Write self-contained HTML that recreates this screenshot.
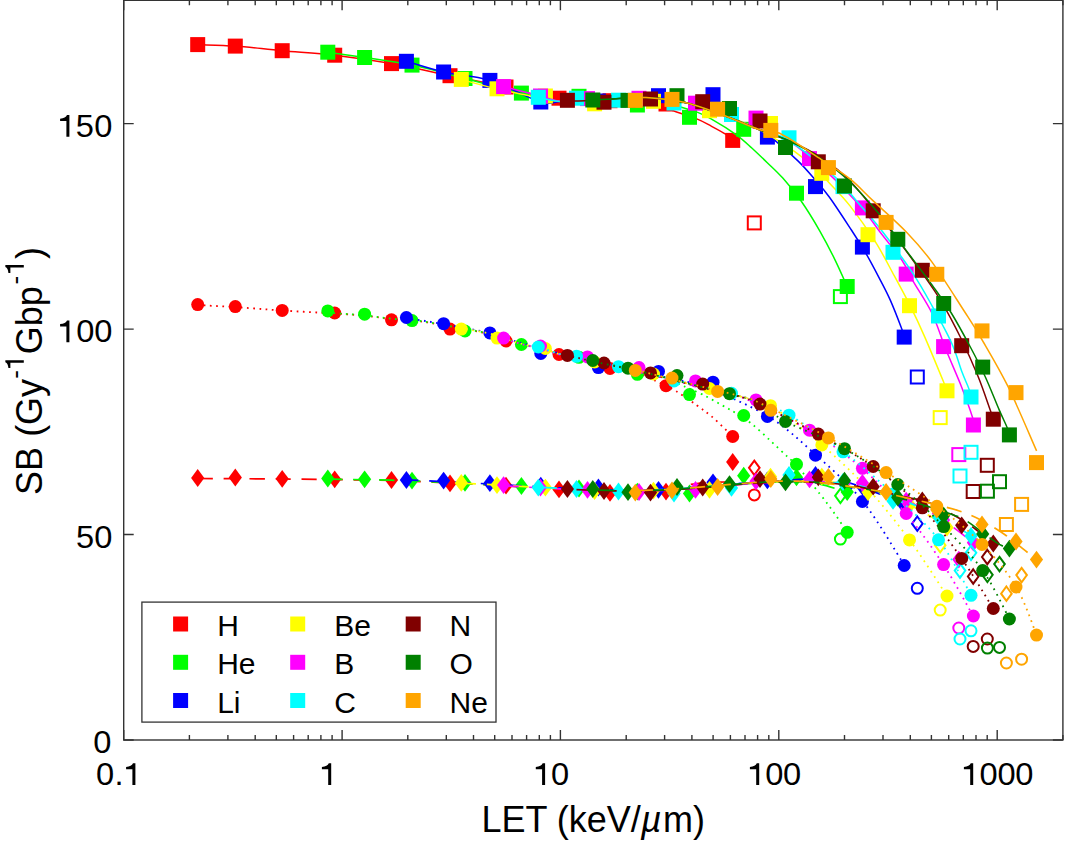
<!DOCTYPE html>
<html><head><meta charset="utf-8"><title>SB vs LET</title>
<style>
html,body{margin:0;padding:0;background:#fff}
body{width:1065px;height:841px;overflow:hidden;font-family:"Liberation Sans",sans-serif}
svg text{font-family:"Liberation Sans",sans-serif;fill:#000}
.t{font-size:32px}
.g{font-size:30px}
.l{font-size:36px}
.s{font-size:26px}
</style></head><body>
<svg width="1065" height="841" viewBox="0 0 1065 841" style="display:block">
<rect width="1065" height="841" fill="#fff"/>
<g fill="#ff0000" stroke="#ff0000">
<path d="M197.7,44.6C204.0,44.9 221.2,45.1 235.3,46.1C249.4,47.1 265.6,49.2 282.2,50.7C298.8,52.2 316.5,53.1 334.7,55.2C352.9,57.4 372.3,60.2 391.5,63.6C410.7,67.0 430.9,71.8 450.0,75.7C469.1,79.6 487.5,82.7 506.0,87.0C524.5,91.3 547.0,99.2 560.8,101.5C574.6,103.8 579.3,101.0 589.0,100.5C598.7,100.0 609.5,99.0 619.0,98.5C628.5,98.0 637.4,95.7 646.0,97.6C654.6,99.5 662.4,106.3 670.8,109.8C679.2,113.3 689.4,115.8 696.2,118.6C703.0,121.3 706.7,123.7 711.6,126.3C716.5,128.9 722.1,131.9 725.6,134.1C729.1,136.3 731.5,138.6 732.7,139.5" fill="none" stroke-width="1.5"/>
<clipPath id="kH"><rect x="197.7" y="0" width="1065" height="841"/></clipPath>
<path d="M197.7,304.6C204.0,304.9 221.2,305.7 235.3,306.6C249.4,307.5 265.4,308.9 282.0,310.0C298.6,311.1 320.9,312.1 334.7,313.0C348.5,313.9 355.1,314.3 364.6,315.2C374.1,316.1 382.3,317.6 391.5,318.5C400.7,319.4 410.2,319.6 420.0,320.8C429.8,322.1 438.3,323.9 450.0,326.0C461.7,328.1 480.7,331.4 490.0,333.6C499.3,335.8 500.8,337.4 506.0,339.0C511.2,340.6 514.5,341.8 521.0,343.5C527.5,345.2 538.7,347.8 545.0,349.5C551.3,351.2 553.2,352.6 559.0,354.0C564.8,355.4 573.2,356.5 580.0,358.0C586.8,359.5 592.0,361.2 600.0,363.0C608.0,364.8 618.6,365.5 628.0,368.5C637.4,371.5 648.7,377.2 656.6,380.9C664.5,384.5 668.9,386.4 675.6,390.4C682.3,394.4 690.6,400.4 696.6,404.7C702.6,409.0 706.7,411.8 711.8,416.1C716.9,420.4 723.5,427.0 727.0,430.4C730.5,433.8 731.8,435.5 732.7,436.5" fill="none" stroke-width="1.8" stroke-dasharray="1.70 4.50" stroke-dashoffset="0" transform="translate(0,0.5)" clip-path="url(#kH)"/>
<path d="M197.7,478.0C211.8,478.1 249.8,478.2 282.0,478.5C314.2,478.8 363.0,479.3 391.0,480.0C419.0,480.7 430.8,481.6 450.0,482.5C469.2,483.4 487.8,484.5 506.0,485.5C524.2,486.5 541.7,487.7 559.0,488.5C576.3,489.3 594.8,490.2 610.0,490.5C625.2,490.8 635.5,491.8 650.0,490.5C664.5,489.2 684.5,484.5 697.0,483.0C709.5,481.5 719.0,481.8 725.0,481.5C731.0,481.2 731.4,481.1 732.7,481.0" fill="none" stroke-width="1.7" stroke-dasharray="15.20 10.78" stroke-dashoffset="0" transform="translate(0,0.5)" clip-path="url(#kH)"/>
<g stroke="none"><rect x="190.2" y="37.1" width="15.0" height="15.0"/><rect x="227.8" y="38.6" width="15.0" height="15.0"/><rect x="274.7" y="43.2" width="15.0" height="15.0"/><rect x="327.2" y="47.7" width="15.0" height="15.0"/><rect x="384.0" y="56.1" width="15.0" height="15.0"/><rect x="442.5" y="68.2" width="15.0" height="15.0"/><rect x="498.5" y="79.5" width="15.0" height="15.0"/><rect x="551.5" y="90.7" width="15.0" height="15.0"/><rect x="602.5" y="93.2" width="15.0" height="15.0"/><rect x="658.5" y="96.5" width="15.0" height="15.0"/><rect x="725.2" y="132.9" width="15.0" height="15.0"/><circle cx="197.7" cy="304.6" r="6.5"/><circle cx="235.3" cy="306.6" r="6.5"/><circle cx="282.2" cy="310.4" r="6.5"/><circle cx="334.7" cy="313.0" r="6.5"/><circle cx="391.5" cy="319.8" r="6.5"/><circle cx="450.0" cy="329.1" r="6.5"/><circle cx="506.0" cy="341.0" r="6.5"/><circle cx="559.0" cy="354.5" r="6.5"/><circle cx="610.0" cy="368.5" r="6.5"/><circle cx="666.0" cy="385.7" r="6.5"/><circle cx="732.7" cy="436.5" r="6.5"/><path d="M197.7,469.1l6.6,8.9l-6.6,8.9l-6.6,-8.9z"/><path d="M235.3,468.6l6.6,8.9l-6.6,8.9l-6.6,-8.9z"/><path d="M282.2,469.9l6.6,8.9l-6.6,8.9l-6.6,-8.9z"/><path d="M334.7,470.4l6.6,8.9l-6.6,8.9l-6.6,-8.9z"/><path d="M391.5,471.1l6.6,8.9l-6.6,8.9l-6.6,-8.9z"/><path d="M450.0,474.5l6.6,8.9l-6.6,8.9l-6.6,-8.9z"/><path d="M506.0,476.8l6.6,8.9l-6.6,8.9l-6.6,-8.9z"/><path d="M559.0,480.5l6.6,8.9l-6.6,8.9l-6.6,-8.9z"/><path d="M610.0,484.0l6.6,8.9l-6.6,8.9l-6.6,-8.9z"/><path d="M666.0,482.7l6.6,8.9l-6.6,8.9l-6.6,-8.9z"/><path d="M732.7,453.1l6.6,8.9l-6.6,8.9l-6.6,-8.9z"/></g>
<g fill="none" stroke-width="2"><rect x="747.8" y="216.4" width="13.0" height="13.0"/><circle cx="754.3" cy="494.9" r="5.5"/><path d="M754.3,460.6l5.3,7.2l-5.3,7.2l-5.3,-7.2z"/></g>
</g>
<g fill="#00ff00" stroke="#00ff00">
<path d="M327.8,52.2C333.9,53.1 350.6,55.4 364.6,57.5C378.6,59.6 395.3,61.6 412.0,65.1C428.7,68.6 446.8,73.8 465.0,78.5C483.2,83.2 505.4,89.3 521.4,93.1C537.4,96.9 549.5,100.3 560.8,101.5C572.1,102.7 579.3,101.0 589.0,100.5C598.7,100.0 609.5,99.0 619.0,98.5C628.5,98.0 637.5,96.7 646.0,97.6C654.5,98.5 661.4,101.5 670.0,104.0C678.6,106.5 690.5,109.7 697.7,112.4C704.9,115.1 706.8,116.4 713.2,120.1C719.7,123.8 730.0,130.2 736.4,134.8C742.8,139.5 746.6,143.3 751.8,148.0C756.9,152.7 762.1,157.7 767.3,162.7C772.5,167.7 777.1,171.7 782.8,178.1C788.5,184.5 795.1,192.4 801.3,201.3C807.5,210.2 814.4,221.6 820.0,231.3C825.6,241.1 830.5,250.6 835.0,259.8C839.5,269.0 845.2,282.1 847.2,286.5" fill="none" stroke-width="1.5"/>
<clipPath id="kHe"><rect x="327.8" y="0" width="1065" height="841"/></clipPath>
<path d="M197.7,304.6C204.0,304.9 221.2,305.7 235.3,306.6C249.4,307.5 265.4,308.9 282.0,310.0C298.6,311.1 320.9,312.1 334.7,313.0C348.5,313.9 355.1,314.3 364.6,315.2C374.1,316.1 382.3,317.6 391.5,318.5C400.7,319.4 410.2,319.6 420.0,320.8C429.8,322.1 438.3,323.9 450.0,326.0C461.7,328.1 480.7,331.4 490.0,333.6C499.3,335.8 500.8,337.4 506.0,339.0C511.2,340.6 514.5,341.8 521.0,343.5C527.5,345.2 538.7,347.8 545.0,349.5C551.3,351.2 553.2,352.6 559.0,354.0C564.8,355.4 573.2,356.5 580.0,358.0C586.8,359.5 592.0,361.2 600.0,363.0C608.0,364.8 617.0,366.0 628.0,368.5C639.0,371.0 656.8,375.1 666.0,378.0C675.2,380.9 677.2,383.0 683.2,385.7C689.2,388.4 695.6,390.9 702.3,394.2C709.0,397.5 717.5,402.5 723.2,405.7C728.9,408.9 731.7,410.3 736.5,413.3C741.3,416.3 746.1,419.1 751.8,423.7C757.5,428.3 764.8,435.3 770.8,440.9C776.8,446.4 783.6,453.0 787.9,457.0C792.2,461.0 791.1,458.9 796.5,465.0C801.9,471.1 813.5,485.6 820.0,493.9C826.5,502.2 831.0,508.3 835.5,514.7C840.0,521.1 845.2,529.4 847.2,532.3" fill="none" stroke-width="1.8" stroke-dasharray="1.70 4.50" stroke-dashoffset="0.5" transform="translate(0,0.2)" clip-path="url(#kHe)"/>
<path d="M197.7,478.0C211.8,478.1 249.8,478.2 282.0,478.5C314.2,478.8 363.0,479.3 391.0,480.0C419.0,480.7 430.8,481.6 450.0,482.5C469.2,483.4 487.8,484.5 506.0,485.5C524.2,486.5 541.7,487.7 559.0,488.5C576.3,489.3 594.8,490.2 610.0,490.5C625.2,490.8 635.0,491.0 650.0,490.5C665.0,490.0 685.0,488.6 700.0,487.5C715.0,486.4 726.7,485.0 740.0,484.0C753.3,483.0 770.6,482.0 780.0,481.5C789.4,481.0 789.8,480.6 796.5,481.0C803.2,481.4 811.5,482.2 820.0,484.0C828.5,485.8 842.7,490.7 847.2,492.0" fill="none" stroke-width="1.7" stroke-dasharray="15.20 10.78" stroke-dashoffset="0.5" transform="translate(0,0.2)" clip-path="url(#kHe)"/>
<g stroke="none"><rect x="320.3" y="44.7" width="15.0" height="15.0"/><rect x="357.1" y="50.0" width="15.0" height="15.0"/><rect x="404.5" y="57.6" width="15.0" height="15.0"/><rect x="457.5" y="71.0" width="15.0" height="15.0"/><rect x="513.9" y="85.6" width="15.0" height="15.0"/><rect x="571.5" y="88.8" width="15.0" height="15.0"/><rect x="629.9" y="97.5" width="15.0" height="15.0"/><rect x="682.0" y="109.8" width="15.0" height="15.0"/><rect x="736.2" y="121.8" width="15.0" height="15.0"/><rect x="789.0" y="185.7" width="15.0" height="15.0"/><rect x="839.7" y="279.0" width="15.0" height="15.0"/><circle cx="327.8" cy="310.9" r="6.5"/><circle cx="364.6" cy="314.2" r="6.5"/><circle cx="412.0" cy="320.6" r="6.5"/><circle cx="465.0" cy="331.0" r="6.5"/><circle cx="521.4" cy="344.5" r="6.5"/><circle cx="579.0" cy="357.3" r="6.5"/><circle cx="637.4" cy="374.3" r="6.5"/><circle cx="689.5" cy="394.6" r="6.5"/><circle cx="743.7" cy="415.5" r="6.5"/><circle cx="796.5" cy="464.3" r="6.5"/><circle cx="847.2" cy="532.3" r="6.5"/><path d="M327.8,469.6l6.6,8.9l-6.6,8.9l-6.6,-8.9z"/><path d="M364.6,470.4l6.6,8.9l-6.6,8.9l-6.6,-8.9z"/><path d="M412.0,471.7l6.6,8.9l-6.6,8.9l-6.6,-8.9z"/><path d="M465.0,474.0l6.6,8.9l-6.6,8.9l-6.6,-8.9z"/><path d="M521.4,477.1l6.6,8.9l-6.6,8.9l-6.6,-8.9z"/><path d="M579.0,479.6l6.6,8.9l-6.6,8.9l-6.6,-8.9z"/><path d="M637.4,482.7l6.6,8.9l-6.6,8.9l-6.6,-8.9z"/><path d="M689.5,484.6l6.6,8.9l-6.6,8.9l-6.6,-8.9z"/><path d="M743.7,466.8l6.6,8.9l-6.6,8.9l-6.6,-8.9z"/><path d="M796.5,468.4l6.6,8.9l-6.6,8.9l-6.6,-8.9z"/><path d="M847.2,483.2l6.6,8.9l-6.6,8.9l-6.6,-8.9z"/></g>
<g fill="none" stroke-width="2"><rect x="833.9" y="290.1" width="13.0" height="13.0"/><circle cx="840.4" cy="539.1" r="5.5"/><path d="M840.4,488.6l5.3,7.2l-5.3,7.2l-5.3,-7.2z"/></g>
</g>
<g fill="#0000ff" stroke="#0000ff">
<path d="M406.4,61.3C412.6,63.1 429.7,68.8 443.6,72.0C457.5,75.2 473.7,75.4 489.9,80.4C506.1,85.4 529.0,98.5 540.8,102.0C552.6,105.5 552.8,101.8 560.8,101.5C568.8,101.2 579.3,101.0 589.0,100.5C598.7,100.0 609.5,99.0 619.0,98.5C628.5,98.0 635.2,97.0 646.0,97.6C656.8,98.2 671.4,99.5 684.0,102.3C696.6,105.1 709.0,110.0 721.5,114.5C734.0,119.0 749.8,125.0 759.0,129.5C768.2,134.1 770.1,136.5 776.6,141.8C783.1,147.1 792.0,155.1 798.2,161.1C804.4,167.1 808.6,172.2 813.7,178.1C818.9,184.0 822.8,188.0 829.1,196.7C835.4,205.3 845.3,220.7 851.4,230.0C857.5,239.3 861.0,244.9 865.6,252.8C870.2,260.7 874.9,269.7 879.0,277.6C883.1,285.5 886.6,291.8 890.4,300.4C894.2,309.0 899.5,322.9 901.8,329.0C904.1,335.1 903.8,335.7 904.2,337.0" fill="none" stroke-width="1.5"/>
<clipPath id="kLi"><rect x="406.4" y="0" width="1065" height="841"/></clipPath>
<path d="M197.7,304.6C204.0,304.9 221.2,305.7 235.3,306.6C249.4,307.5 265.4,308.9 282.0,310.0C298.6,311.1 320.9,312.1 334.7,313.0C348.5,313.9 355.1,314.3 364.6,315.2C374.1,316.1 382.3,317.6 391.5,318.5C400.7,319.4 410.2,319.6 420.0,320.8C429.8,322.1 438.3,323.9 450.0,326.0C461.7,328.1 480.7,331.4 490.0,333.6C499.3,335.8 500.8,337.4 506.0,339.0C511.2,340.6 514.5,341.8 521.0,343.5C527.5,345.2 538.7,347.8 545.0,349.5C551.3,351.2 553.2,352.6 559.0,354.0C564.8,355.4 573.2,356.5 580.0,358.0C586.8,359.5 592.0,361.2 600.0,363.0C608.0,364.8 617.0,366.0 628.0,368.5C639.0,371.0 653.3,374.8 666.0,378.0C678.7,381.2 687.1,381.2 704.0,387.6C720.9,394.0 748.8,405.2 767.4,416.5C786.0,427.8 799.7,441.0 815.5,455.2C831.3,469.4 847.6,483.1 862.4,501.5C877.2,519.9 897.2,554.8 904.2,565.5" fill="none" stroke-width="1.8" stroke-dasharray="1.70 4.46" stroke-dashoffset="1.0" transform="translate(0,-0.6)" clip-path="url(#kLi)"/>
<path d="M197.7,478.0C211.8,478.1 249.8,478.2 282.0,478.5C314.2,478.8 363.0,479.3 391.0,480.0C419.0,480.7 430.8,481.6 450.0,482.5C469.2,483.4 487.8,484.5 506.0,485.5C524.2,486.5 541.7,487.7 559.0,488.5C576.3,489.3 594.8,490.2 610.0,490.5C625.2,490.8 635.0,491.0 650.0,490.5C665.0,490.0 685.0,488.6 700.0,487.5C715.0,486.4 726.7,485.0 740.0,484.0C753.3,483.0 769.0,482.2 780.0,481.5C791.0,480.8 796.0,479.7 806.0,479.7C816.0,479.7 831.0,480.3 840.0,481.5C849.0,482.7 852.5,484.4 860.0,487.0C867.5,489.6 877.6,493.9 885.0,497.0C892.4,500.1 901.0,504.1 904.2,505.5" fill="none" stroke-width="1.7" stroke-dasharray="15.11 10.72" stroke-dashoffset="1.0" transform="translate(0,-0.6)" clip-path="url(#kLi)"/>
<g stroke="none"><rect x="398.9" y="53.8" width="15.0" height="15.0"/><rect x="436.1" y="64.5" width="15.0" height="15.0"/><rect x="482.4" y="72.9" width="15.0" height="15.0"/><rect x="533.3" y="94.5" width="15.0" height="15.0"/><rect x="590.9" y="93.5" width="15.0" height="15.0"/><rect x="651.0" y="88.2" width="15.0" height="15.0"/><rect x="705.5" y="87.2" width="15.0" height="15.0"/><rect x="759.9" y="129.6" width="15.0" height="15.0"/><rect x="808.0" y="179.1" width="15.0" height="15.0"/><rect x="854.9" y="239.6" width="15.0" height="15.0"/><rect x="896.7" y="329.6" width="15.0" height="15.0"/><circle cx="406.4" cy="317.5" r="6.5"/><circle cx="443.6" cy="323.7" r="6.5"/><circle cx="489.9" cy="332.9" r="6.5"/><circle cx="540.8" cy="353.5" r="6.5"/><circle cx="598.4" cy="367.6" r="6.5"/><circle cx="658.5" cy="371.4" r="6.5"/><circle cx="713.0" cy="382.2" r="6.5"/><circle cx="767.4" cy="416.5" r="6.5"/><circle cx="815.5" cy="455.2" r="6.5"/><circle cx="862.4" cy="501.5" r="6.5"/><circle cx="904.2" cy="565.5" r="6.5"/><path d="M406.4,471.1l6.6,8.9l-6.6,8.9l-6.6,-8.9z"/><path d="M443.6,471.7l6.6,8.9l-6.6,8.9l-6.6,-8.9z"/><path d="M489.9,474.3l6.6,8.9l-6.6,8.9l-6.6,-8.9z"/><path d="M540.8,476.8l6.6,8.9l-6.6,8.9l-6.6,-8.9z"/><path d="M598.4,478.6l6.6,8.9l-6.6,8.9l-6.6,-8.9z"/><path d="M658.5,480.9l6.6,8.9l-6.6,8.9l-6.6,-8.9z"/><path d="M713.0,473.4l6.6,8.9l-6.6,8.9l-6.6,-8.9z"/><path d="M767.4,471.5l6.6,8.9l-6.6,8.9l-6.6,-8.9z"/><path d="M815.5,466.1l6.6,8.9l-6.6,8.9l-6.6,-8.9z"/><path d="M862.4,477.6l6.6,8.9l-6.6,8.9l-6.6,-8.9z"/><path d="M904.2,496.6l6.6,8.9l-6.6,8.9l-6.6,-8.9z"/></g>
<g fill="none" stroke-width="2"><rect x="910.8" y="370.5" width="13.0" height="13.0"/><circle cx="917.3" cy="588.3" r="5.5"/><path d="M917.3,516.5l5.3,7.2l-5.3,7.2l-5.3,-7.2z"/></g>
</g>
<g fill="#ffff00" stroke="#ffff00">
<path d="M461.3,79.4C467.2,81.0 480.4,85.1 497.0,88.8C513.6,92.5 545.5,99.5 560.8,101.5C576.1,103.5 579.3,101.0 589.0,100.5C598.7,100.0 609.5,99.0 619.0,98.5C628.5,98.0 635.2,97.0 646.0,97.6C656.8,98.2 671.4,99.5 684.0,102.3C696.6,105.1 709.0,110.0 721.5,114.5C734.0,119.0 746.7,123.3 759.0,129.5C771.3,135.7 786.0,145.5 795.1,151.8C804.2,158.1 808.0,162.1 813.7,167.3C819.4,172.5 823.1,176.4 829.1,182.8C835.1,189.2 842.3,196.1 850.0,205.9C857.7,215.7 867.7,229.8 875.1,241.4C882.5,253.0 888.5,265.2 894.2,275.7C899.9,286.2 904.3,294.0 909.4,304.2C914.5,314.4 918.9,323.6 924.6,336.6C930.3,349.6 940.0,373.2 943.7,382.2C947.4,391.2 946.5,389.4 947.0,390.8" fill="none" stroke-width="1.5"/>
<clipPath id="kBe"><rect x="461.3" y="0" width="1065" height="841"/></clipPath>
<path d="M197.7,304.6C204.0,304.9 221.2,305.7 235.3,306.6C249.4,307.5 265.4,308.9 282.0,310.0C298.6,311.1 320.9,312.1 334.7,313.0C348.5,313.9 355.1,314.3 364.6,315.2C374.1,316.1 382.3,317.6 391.5,318.5C400.7,319.4 410.2,319.6 420.0,320.8C429.8,322.1 438.3,323.9 450.0,326.0C461.7,328.1 480.7,331.4 490.0,333.6C499.3,335.8 500.8,337.4 506.0,339.0C511.2,340.6 514.5,341.8 521.0,343.5C527.5,345.2 538.7,347.8 545.0,349.5C551.3,351.2 553.2,352.6 559.0,354.0C564.8,355.4 573.2,356.5 580.0,358.0C586.8,359.5 592.0,361.2 600.0,363.0C608.0,364.8 617.0,366.0 628.0,368.5C639.0,371.0 653.3,374.8 666.0,378.0C678.7,381.2 691.3,384.4 704.0,387.6C716.7,390.8 730.9,394.0 742.0,397.0C753.1,400.0 757.2,397.7 770.5,405.7C783.8,413.7 805.5,431.0 821.8,444.9C838.0,458.8 853.4,473.2 868.0,489.0C882.6,504.8 896.3,522.1 909.5,539.9C922.7,557.7 940.8,586.6 947.0,596.0" fill="none" stroke-width="1.8" stroke-dasharray="1.70 4.58" stroke-dashoffset="0.3" transform="translate(0,0)" clip-path="url(#kBe)"/>
<path d="M197.7,478.0C211.8,478.1 249.8,478.2 282.0,478.5C314.2,478.8 363.0,479.3 391.0,480.0C419.0,480.7 430.8,481.6 450.0,482.5C469.2,483.4 487.8,484.5 506.0,485.5C524.2,486.5 541.7,487.7 559.0,488.5C576.3,489.3 594.8,490.2 610.0,490.5C625.2,490.8 635.0,491.0 650.0,490.5C665.0,490.0 685.0,488.6 700.0,487.5C715.0,486.4 726.7,485.0 740.0,484.0C753.3,483.0 766.3,482.0 780.0,481.5C793.7,481.0 810.3,480.4 822.0,481.0C833.7,481.6 842.3,483.5 850.0,485.0C857.7,486.5 861.3,488.0 868.0,490.0C874.7,492.0 883.1,494.5 890.0,497.0C896.9,499.5 902.8,501.8 909.5,505.0C916.2,508.2 923.8,512.2 930.0,516.0C936.2,519.8 944.2,525.6 947.0,527.5" fill="none" stroke-width="1.7" stroke-dasharray="15.40 10.92" stroke-dashoffset="0.3" transform="translate(0,0)" clip-path="url(#kBe)"/>
<g stroke="none"><rect x="453.8" y="71.9" width="15.0" height="15.0"/><rect x="489.5" y="81.3" width="15.0" height="15.0"/><rect x="537.9" y="88.5" width="15.0" height="15.0"/><rect x="587.1" y="96.3" width="15.0" height="15.0"/><rect x="646.0" y="93.8" width="15.0" height="15.0"/><rect x="702.0" y="103.2" width="15.0" height="15.0"/><rect x="763.0" y="116.0" width="15.0" height="15.0"/><rect x="814.3" y="165.8" width="15.0" height="15.0"/><rect x="860.5" y="227.2" width="15.0" height="15.0"/><rect x="902.0" y="298.2" width="15.0" height="15.0"/><rect x="939.5" y="383.3" width="15.0" height="15.0"/><circle cx="461.3" cy="329.1" r="6.5"/><circle cx="497.0" cy="338.1" r="6.5"/><circle cx="545.4" cy="348.5" r="6.5"/><circle cx="594.6" cy="362.0" r="6.5"/><circle cx="653.5" cy="374.0" r="6.5"/><circle cx="709.5" cy="388.5" r="6.5"/><circle cx="770.5" cy="405.7" r="6.5"/><circle cx="821.8" cy="444.9" r="6.5"/><circle cx="868.0" cy="489.0" r="6.5"/><circle cx="909.5" cy="539.9" r="6.5"/><circle cx="947.0" cy="596.0" r="6.5"/><path d="M461.3,474.0l6.6,8.9l-6.6,8.9l-6.6,-8.9z"/><path d="M497.0,476.2l6.6,8.9l-6.6,8.9l-6.6,-8.9z"/><path d="M545.4,478.7l6.6,8.9l-6.6,8.9l-6.6,-8.9z"/><path d="M594.6,482.1l6.6,8.9l-6.6,8.9l-6.6,-8.9z"/><path d="M653.5,481.8l6.6,8.9l-6.6,8.9l-6.6,-8.9z"/><path d="M709.5,480.9l6.6,8.9l-6.6,8.9l-6.6,-8.9z"/><path d="M770.5,467.7l6.6,8.9l-6.6,8.9l-6.6,-8.9z"/><path d="M821.8,467.7l6.6,8.9l-6.6,8.9l-6.6,-8.9z"/><path d="M868.0,483.1l6.6,8.9l-6.6,8.9l-6.6,-8.9z"/><path d="M909.5,496.1l6.6,8.9l-6.6,8.9l-6.6,-8.9z"/><path d="M947.0,518.6l6.6,8.9l-6.6,8.9l-6.6,-8.9z"/></g>
<g fill="none" stroke-width="2"><rect x="933.7" y="411.1" width="13.0" height="13.0"/><circle cx="940.2" cy="610.1" r="5.5"/><path d="M940.2,538.0l5.3,7.2l-5.3,7.2l-5.3,-7.2z"/></g>
</g>
<g fill="#ff00ff" stroke="#ff00ff">
<path d="M503.6,86.6C509.8,88.2 531.0,93.5 540.5,96.0C550.0,98.5 552.7,100.8 560.8,101.5C568.9,102.2 579.3,101.0 589.0,100.5C598.7,100.0 609.5,99.0 619.0,98.5C628.5,98.0 635.2,97.0 646.0,97.6C656.8,98.2 671.4,99.5 684.0,102.3C696.6,105.1 709.0,110.0 721.5,114.5C734.0,119.0 747.8,125.1 759.0,129.5C770.2,133.9 777.0,133.0 789.0,140.8C801.0,148.6 819.0,164.7 831.3,176.1C843.6,187.5 854.6,199.7 862.7,209.0C870.8,218.3 873.5,223.5 880.0,232.0C886.5,240.5 896.3,251.8 901.8,260.0C907.3,268.2 908.1,272.4 913.2,281.4C918.3,290.3 926.8,302.4 932.2,313.7C937.6,325.0 940.9,337.1 945.7,349.0C950.5,360.9 956.3,373.7 960.8,385.0C965.2,396.3 970.3,410.3 972.4,417.0C974.5,423.7 973.2,423.7 973.4,425.0" fill="none" stroke-width="1.5"/>
<clipPath id="kB"><rect x="503.6" y="0" width="1065" height="841"/></clipPath>
<path d="M197.7,304.6C204.0,304.9 221.2,305.7 235.3,306.6C249.4,307.5 265.4,308.9 282.0,310.0C298.6,311.1 320.9,312.1 334.7,313.0C348.5,313.9 355.1,314.3 364.6,315.2C374.1,316.1 382.3,317.6 391.5,318.5C400.7,319.4 410.2,319.6 420.0,320.8C429.8,322.1 438.3,323.9 450.0,326.0C461.7,328.1 480.7,331.4 490.0,333.6C499.3,335.8 500.8,337.4 506.0,339.0C511.2,340.6 514.5,341.8 521.0,343.5C527.5,345.2 538.7,347.8 545.0,349.5C551.3,351.2 553.2,352.6 559.0,354.0C564.8,355.4 573.2,356.5 580.0,358.0C586.8,359.5 592.0,361.2 600.0,363.0C608.0,364.8 617.0,366.0 628.0,368.5C639.0,371.0 653.3,374.8 666.0,378.0C678.7,381.2 691.3,384.4 704.0,387.6C716.7,390.8 724.4,389.9 742.0,397.0C759.6,404.1 789.4,418.3 809.5,430.2C829.6,442.1 846.3,454.4 862.4,468.3C878.5,482.2 892.7,497.4 906.2,513.5C919.7,529.5 932.4,547.5 943.6,564.6C954.8,581.7 968.4,607.4 973.4,616.0" fill="none" stroke-width="1.8" stroke-dasharray="1.70 4.40" stroke-dashoffset="0.8" transform="translate(0,0.4)" clip-path="url(#kB)"/>
<path d="M197.7,478.0C211.8,478.1 249.8,478.2 282.0,478.5C314.2,478.8 363.0,479.3 391.0,480.0C419.0,480.7 430.8,481.6 450.0,482.5C469.2,483.4 487.8,484.5 506.0,485.5C524.2,486.5 541.7,487.7 559.0,488.5C576.3,489.3 594.8,490.2 610.0,490.5C625.2,490.8 635.0,491.0 650.0,490.5C665.0,490.0 685.0,488.6 700.0,487.5C715.0,486.4 726.7,485.0 740.0,484.0C753.3,483.0 768.3,482.1 780.0,481.5C791.7,480.9 800.0,480.3 810.0,480.5C820.0,480.7 831.3,481.6 840.0,482.5C848.7,483.4 854.9,484.3 862.4,486.0C869.9,487.7 877.7,490.1 885.0,492.5C892.3,494.9 899.5,497.9 906.2,500.6C912.9,503.4 918.8,505.8 925.0,509.0C931.2,512.2 937.8,516.2 943.6,520.0C949.4,523.8 955.0,528.2 960.0,532.0C965.0,535.8 971.2,540.9 973.4,542.7" fill="none" stroke-width="1.7" stroke-dasharray="14.96 10.61" stroke-dashoffset="0.8" transform="translate(0,0.4)" clip-path="url(#kB)"/>
<g stroke="none"><rect x="496.1" y="79.1" width="15.0" height="15.0"/><rect x="533.0" y="88.5" width="15.0" height="15.0"/><rect x="580.0" y="91.1" width="15.0" height="15.0"/><rect x="631.5" y="90.8" width="15.0" height="15.0"/><rect x="688.0" y="95.7" width="15.0" height="15.0"/><rect x="748.5" y="110.6" width="15.0" height="15.0"/><rect x="802.0" y="151.1" width="15.0" height="15.0"/><rect x="854.9" y="200.4" width="15.0" height="15.0"/><rect x="898.7" y="266.6" width="15.0" height="15.0"/><rect x="936.1" y="339.1" width="15.0" height="15.0"/><rect x="965.9" y="417.5" width="15.0" height="15.0"/><circle cx="503.6" cy="338.1" r="6.5"/><circle cx="540.5" cy="346.0" r="6.5"/><circle cx="587.5" cy="356.9" r="6.5"/><circle cx="639.0" cy="367.6" r="6.5"/><circle cx="695.5" cy="380.9" r="6.5"/><circle cx="756.0" cy="399.9" r="6.5"/><circle cx="809.5" cy="430.2" r="6.5"/><circle cx="862.4" cy="468.3" r="6.5"/><circle cx="906.2" cy="513.5" r="6.5"/><circle cx="943.6" cy="564.6" r="6.5"/><circle cx="973.4" cy="616.0" r="6.5"/><path d="M503.6,476.2l6.6,8.9l-6.6,8.9l-6.6,-8.9z"/><path d="M540.5,478.7l6.6,8.9l-6.6,8.9l-6.6,-8.9z"/><path d="M587.5,480.9l6.6,8.9l-6.6,8.9l-6.6,-8.9z"/><path d="M639.0,483.1l6.6,8.9l-6.6,8.9l-6.6,-8.9z"/><path d="M695.5,480.9l6.6,8.9l-6.6,8.9l-6.6,-8.9z"/><path d="M756.0,472.4l6.6,8.9l-6.6,8.9l-6.6,-8.9z"/><path d="M809.5,470.4l6.6,8.9l-6.6,8.9l-6.6,-8.9z"/><path d="M862.4,474.0l6.6,8.9l-6.6,8.9l-6.6,-8.9z"/><path d="M906.2,491.7l6.6,8.9l-6.6,8.9l-6.6,-8.9z"/><path d="M943.6,511.1l6.6,8.9l-6.6,8.9l-6.6,-8.9z"/><path d="M973.4,533.8l6.6,8.9l-6.6,8.9l-6.6,-8.9z"/></g>
<g fill="none" stroke-width="2"><rect x="952.3" y="448.1" width="13.0" height="13.0"/><circle cx="958.8" cy="628.0" r="5.5"/><path d="M958.8,552.4l5.3,7.2l-5.3,7.2l-5.3,-7.2z"/></g>
</g>
<g fill="#00ffff" stroke="#00ffff">
<path d="M538.3,97.3C542.0,98.0 552.3,101.0 560.8,101.5C569.2,102.0 579.3,101.0 589.0,100.5C598.7,100.0 609.5,99.0 619.0,98.5C628.5,98.0 635.2,97.0 646.0,97.6C656.8,98.2 671.4,99.5 684.0,102.3C696.6,105.1 709.0,110.0 721.5,114.5C734.0,119.0 747.8,125.1 759.0,129.5C770.2,133.9 776.3,132.9 789.0,140.8C801.7,148.7 823.3,166.4 835.1,177.1C846.9,187.8 852.0,195.8 860.0,205.0C868.0,214.2 873.9,220.5 882.8,232.0C891.7,243.5 905.0,261.4 913.2,273.8C921.4,286.2 925.9,294.7 932.2,306.1C938.6,317.5 946.3,331.3 951.3,342.3C956.3,353.3 959.1,364.3 962.0,372.0C964.9,379.7 967.3,384.3 968.8,388.5C970.3,392.7 970.6,395.6 971.0,397.0" fill="none" stroke-width="1.5"/>
<clipPath id="kC"><rect x="538.3" y="0" width="1065" height="841"/></clipPath>
<path d="M197.7,304.6C204.0,304.9 221.2,305.7 235.3,306.6C249.4,307.5 265.4,308.9 282.0,310.0C298.6,311.1 320.9,312.1 334.7,313.0C348.5,313.9 355.1,314.3 364.6,315.2C374.1,316.1 382.3,317.6 391.5,318.5C400.7,319.4 410.2,319.6 420.0,320.8C429.8,322.1 438.3,323.9 450.0,326.0C461.7,328.1 480.7,331.4 490.0,333.6C499.3,335.8 500.8,337.4 506.0,339.0C511.2,340.6 514.5,341.8 521.0,343.5C527.5,345.2 538.7,347.8 545.0,349.5C551.3,351.2 553.2,352.6 559.0,354.0C564.8,355.4 573.2,356.5 580.0,358.0C586.8,359.5 592.0,361.2 600.0,363.0C608.0,364.8 617.0,366.0 628.0,368.5C639.0,371.0 653.3,374.8 666.0,378.0C678.7,381.2 691.3,384.4 704.0,387.6C716.7,390.8 732.7,394.4 742.0,397.0C751.3,399.6 752.2,400.5 760.0,403.5C767.8,406.5 775.2,407.1 789.0,415.2C802.8,423.2 825.7,438.7 843.0,451.8C860.3,464.9 877.1,479.3 893.0,494.0C908.9,508.7 925.5,522.9 938.5,539.8C951.5,556.7 965.6,586.0 971.0,595.3" fill="none" stroke-width="1.8" stroke-dasharray="1.70 4.64" stroke-dashoffset="1.3" transform="translate(0,-0.3)" clip-path="url(#kC)"/>
<path d="M197.7,478.0C211.8,478.1 249.8,478.2 282.0,478.5C314.2,478.8 363.0,479.3 391.0,480.0C419.0,480.7 430.8,481.6 450.0,482.5C469.2,483.4 487.8,484.5 506.0,485.5C524.2,486.5 541.7,487.7 559.0,488.5C576.3,489.3 594.8,490.2 610.0,490.5C625.2,490.8 635.0,491.0 650.0,490.5C665.0,490.0 685.0,488.6 700.0,487.5C715.0,486.4 726.7,485.0 740.0,484.0C753.3,483.0 762.8,481.6 780.0,481.5C797.2,481.4 828.0,482.2 843.0,483.5C858.0,484.8 861.7,486.8 870.0,489.0C878.3,491.2 885.5,494.2 893.0,497.0C900.5,499.8 907.4,502.2 915.0,505.5C922.6,508.8 931.8,513.6 938.5,517.0C945.2,520.4 949.6,522.9 955.0,526.0C960.4,529.1 968.3,534.2 971.0,535.9" fill="none" stroke-width="1.7" stroke-dasharray="15.53 11.02" stroke-dashoffset="1.3" transform="translate(0,-0.3)" clip-path="url(#kC)"/>
<g stroke="none"><rect x="530.8" y="89.8" width="15.0" height="15.0"/><rect x="569.0" y="90.7" width="15.0" height="15.0"/><rect x="611.0" y="92.7" width="15.0" height="15.0"/><rect x="666.5" y="95.5" width="15.0" height="15.0"/><rect x="724.0" y="107.0" width="15.0" height="15.0"/><rect x="781.5" y="130.3" width="15.0" height="15.0"/><rect x="835.5" y="179.1" width="15.0" height="15.0"/><rect x="885.5" y="244.8" width="15.0" height="15.0"/><rect x="931.0" y="308.5" width="15.0" height="15.0"/><rect x="963.5" y="389.5" width="15.0" height="15.0"/><circle cx="538.3" cy="347.0" r="6.5"/><circle cx="576.5" cy="356.3" r="6.5"/><circle cx="618.5" cy="366.7" r="6.5"/><circle cx="674.0" cy="380.9" r="6.5"/><circle cx="731.5" cy="393.3" r="6.5"/><circle cx="789.0" cy="415.2" r="6.5"/><circle cx="843.0" cy="451.8" r="6.5"/><circle cx="893.0" cy="494.0" r="6.5"/><circle cx="938.5" cy="539.8" r="6.5"/><circle cx="971.0" cy="595.3" r="6.5"/><path d="M538.3,478.7l6.6,8.9l-6.6,8.9l-6.6,-8.9z"/><path d="M576.5,480.1l6.6,8.9l-6.6,8.9l-6.6,-8.9z"/><path d="M618.5,482.6l6.6,8.9l-6.6,8.9l-6.6,-8.9z"/><path d="M674.0,484.6l6.6,8.9l-6.6,8.9l-6.6,-8.9z"/><path d="M731.5,479.0l6.6,8.9l-6.6,8.9l-6.6,-8.9z"/><path d="M789.0,466.1l6.6,8.9l-6.6,8.9l-6.6,-8.9z"/><path d="M843.0,473.1l6.6,8.9l-6.6,8.9l-6.6,-8.9z"/><path d="M893.0,492.0l6.6,8.9l-6.6,8.9l-6.6,-8.9z"/><path d="M938.5,508.1l6.6,8.9l-6.6,8.9l-6.6,-8.9z"/><path d="M971.0,527.0l6.6,8.9l-6.6,8.9l-6.6,-8.9z"/></g>
<g fill="none" stroke-width="2"><rect x="964.5" y="445.8" width="13.0" height="13.0"/><circle cx="971.0" cy="630.8" r="5.5"/><path d="M971.0,545.6l5.3,7.2l-5.3,7.2l-5.3,-7.2z"/><rect x="953.5" y="469.5" width="13.0" height="13.0"/><circle cx="960.0" cy="639.0" r="5.5"/><path d="M960.0,563.4l5.3,7.2l-5.3,7.2l-5.3,-7.2z"/></g>
</g>
<g fill="#800000" stroke="#800000">
<path d="M567.4,101.3C571.0,101.1 580.4,101.0 589.0,100.5C597.6,100.0 609.5,99.0 619.0,98.5C628.5,98.0 635.2,97.0 646.0,97.6C656.8,98.2 671.4,99.5 684.0,102.3C696.6,105.1 709.0,110.0 721.5,114.5C734.0,119.0 747.8,125.1 759.0,129.5C770.2,133.9 778.8,136.2 789.0,140.8C799.2,145.4 809.8,150.3 820.0,157.0C830.2,163.7 838.3,168.8 850.0,181.0C861.7,193.2 878.3,214.5 890.4,230.0C902.5,245.5 914.1,261.8 922.7,273.8C931.3,285.9 935.4,291.6 941.8,302.3C948.1,313.0 954.8,325.7 960.8,338.0C966.8,350.3 973.0,364.0 977.9,376.0C982.8,388.0 987.6,402.7 990.2,409.9C992.8,417.1 992.8,417.6 993.3,419.2" fill="none" stroke-width="1.5"/>
<clipPath id="kN"><rect x="567.4" y="0" width="1065" height="841"/></clipPath>
<path d="M197.7,304.6C204.0,304.9 221.2,305.7 235.3,306.6C249.4,307.5 265.4,308.9 282.0,310.0C298.6,311.1 320.9,312.1 334.7,313.0C348.5,313.9 355.1,314.3 364.6,315.2C374.1,316.1 382.3,317.6 391.5,318.5C400.7,319.4 410.2,319.6 420.0,320.8C429.8,322.1 438.3,323.9 450.0,326.0C461.7,328.1 480.7,331.4 490.0,333.6C499.3,335.8 500.8,337.4 506.0,339.0C511.2,340.6 514.5,341.8 521.0,343.5C527.5,345.2 538.7,347.8 545.0,349.5C551.3,351.2 553.2,352.6 559.0,354.0C564.8,355.4 573.2,356.5 580.0,358.0C586.8,359.5 592.0,361.2 600.0,363.0C608.0,364.8 617.0,366.0 628.0,368.5C639.0,371.0 653.3,374.8 666.0,378.0C678.7,381.2 691.3,384.4 704.0,387.6C716.7,390.8 732.7,394.2 742.0,397.0C751.3,399.8 747.3,397.9 760.0,404.1C772.7,410.3 799.4,423.7 818.3,434.1C837.2,444.5 855.9,454.2 873.2,466.5C890.5,478.8 907.5,492.5 922.3,507.8C937.0,523.1 949.9,541.6 961.7,558.4C973.5,575.2 988.0,600.1 993.3,608.5" fill="none" stroke-width="1.8" stroke-dasharray="1.70 4.33" stroke-dashoffset="0.2" transform="translate(0,0.3)" clip-path="url(#kN)"/>
<path d="M197.7,478.0C211.8,478.1 249.8,478.2 282.0,478.5C314.2,478.8 363.0,479.3 391.0,480.0C419.0,480.7 430.8,481.6 450.0,482.5C469.2,483.4 487.8,484.5 506.0,485.5C524.2,486.5 541.7,487.7 559.0,488.5C576.3,489.3 594.8,490.2 610.0,490.5C625.2,490.8 635.0,491.0 650.0,490.5C665.0,490.0 685.0,488.6 700.0,487.5C715.0,486.4 726.7,485.0 740.0,484.0C753.3,483.0 767.0,481.8 780.0,481.5C793.0,481.2 806.6,481.4 818.3,482.0C830.0,482.6 840.9,483.8 850.0,485.0C859.1,486.2 863.7,487.5 873.2,489.5C882.7,491.5 897.4,494.8 907.0,497.0C916.6,499.2 921.7,499.3 930.7,503.0C939.7,506.7 953.2,514.4 961.1,519.0C969.0,523.6 972.6,526.7 978.0,530.8C983.4,534.9 990.8,541.4 993.3,543.5" fill="none" stroke-width="1.7" stroke-dasharray="14.79 10.49" stroke-dashoffset="0.2" transform="translate(0,0.3)" clip-path="url(#kN)"/>
<g stroke="none"><rect x="559.9" y="92.8" width="15.0" height="15.0"/><rect x="596.5" y="94.7" width="15.0" height="15.0"/><rect x="643.0" y="91.5" width="15.0" height="15.0"/><rect x="695.2" y="94.2" width="15.0" height="15.0"/><rect x="752.5" y="113.5" width="15.0" height="15.0"/><rect x="810.8" y="154.3" width="15.0" height="15.0"/><rect x="865.7" y="203.3" width="15.0" height="15.0"/><rect x="914.8" y="262.8" width="15.0" height="15.0"/><rect x="954.2" y="338.2" width="15.0" height="15.0"/><rect x="985.8" y="411.7" width="15.0" height="15.0"/><circle cx="567.4" cy="355.4" r="6.5"/><circle cx="604.0" cy="363.0" r="6.5"/><circle cx="650.5" cy="372.9" r="6.5"/><circle cx="702.7" cy="384.1" r="6.5"/><circle cx="760.0" cy="404.1" r="6.5"/><circle cx="818.3" cy="434.1" r="6.5"/><circle cx="873.2" cy="466.5" r="6.5"/><circle cx="922.3" cy="507.8" r="6.5"/><circle cx="961.7" cy="558.4" r="6.5"/><circle cx="993.3" cy="608.5" r="6.5"/><path d="M567.4,480.1l6.6,8.9l-6.6,8.9l-6.6,-8.9z"/><path d="M604.0,482.1l6.6,8.9l-6.6,8.9l-6.6,-8.9z"/><path d="M650.5,483.7l6.6,8.9l-6.6,8.9l-6.6,-8.9z"/><path d="M702.7,478.6l6.6,8.9l-6.6,8.9l-6.6,-8.9z"/><path d="M760.0,470.2l6.6,8.9l-6.6,8.9l-6.6,-8.9z"/><path d="M818.3,468.4l6.6,8.9l-6.6,8.9l-6.6,-8.9z"/><path d="M873.2,477.8l6.6,8.9l-6.6,8.9l-6.6,-8.9z"/><path d="M922.3,491.6l6.6,8.9l-6.6,8.9l-6.6,-8.9z"/><path d="M961.7,516.4l6.6,8.9l-6.6,8.9l-6.6,-8.9z"/><path d="M993.3,534.6l6.6,8.9l-6.6,8.9l-6.6,-8.9z"/></g>
<g fill="none" stroke-width="2"><rect x="980.8" y="458.8" width="13.0" height="13.0"/><circle cx="987.3" cy="639.0" r="5.5"/><path d="M987.3,549.8l5.3,7.2l-5.3,7.2l-5.3,-7.2z"/><rect x="966.7" y="485.0" width="13.0" height="13.0"/><circle cx="973.2" cy="646.4" r="5.5"/><path d="M973.2,569.3l5.3,7.2l-5.3,7.2l-5.3,-7.2z"/></g>
</g>
<g fill="#008000" stroke="#008000">
<path d="M592.8,100.2C597.2,100.0 610.1,98.9 619.0,98.5C627.9,98.1 635.2,97.0 646.0,97.6C656.8,98.2 671.4,99.5 684.0,102.3C696.6,105.1 709.0,110.0 721.5,114.5C734.0,119.0 747.8,125.1 759.0,129.5C770.2,133.9 778.8,136.1 789.0,140.8C799.2,145.6 809.8,151.1 820.0,158.0C830.2,164.9 840.0,172.5 850.0,182.0C860.0,191.5 871.0,204.2 880.0,215.0C889.0,225.8 895.0,235.4 903.7,247.1C912.4,258.8 924.3,274.2 932.2,285.2C940.1,296.2 944.9,302.6 951.3,313.0C957.7,323.4 965.0,337.0 970.6,347.5C976.2,358.0 980.1,365.6 984.9,376.0C989.7,386.4 995.5,401.3 999.2,409.9C1002.9,418.5 1005.5,423.5 1007.2,427.7C1008.9,431.9 1009.0,433.7 1009.4,434.9" fill="none" stroke-width="1.5"/>
<clipPath id="kO"><rect x="592.8" y="0" width="1065" height="841"/></clipPath>
<path d="M197.7,304.6C204.0,304.9 221.2,305.7 235.3,306.6C249.4,307.5 265.4,308.9 282.0,310.0C298.6,311.1 320.9,312.1 334.7,313.0C348.5,313.9 355.1,314.3 364.6,315.2C374.1,316.1 382.3,317.6 391.5,318.5C400.7,319.4 410.2,319.6 420.0,320.8C429.8,322.1 438.3,323.9 450.0,326.0C461.7,328.1 480.7,331.4 490.0,333.6C499.3,335.8 500.8,337.4 506.0,339.0C511.2,340.6 514.5,341.8 521.0,343.5C527.5,345.2 538.7,347.8 545.0,349.5C551.3,351.2 553.2,352.6 559.0,354.0C564.8,355.4 573.2,356.5 580.0,358.0C586.8,359.5 592.0,361.2 600.0,363.0C608.0,364.8 617.0,366.0 628.0,368.5C639.0,371.0 653.3,374.8 666.0,378.0C678.7,381.2 691.3,384.4 704.0,387.6C716.7,390.8 732.7,394.4 742.0,397.0C751.3,399.6 752.8,399.4 760.0,403.5C767.2,407.6 771.4,414.0 785.5,421.5C799.6,429.0 825.8,438.2 844.5,448.7C863.2,459.2 881.3,471.5 897.8,484.5C914.3,497.5 929.6,512.2 943.7,526.6C957.9,541.0 971.8,555.2 982.7,570.6C993.7,586.0 1005.0,610.9 1009.4,619.0" fill="none" stroke-width="1.8" stroke-dasharray="1.70 4.70" stroke-dashoffset="0.7" transform="translate(0,-0.1)" clip-path="url(#kO)"/>
<path d="M197.7,478.0C211.8,478.1 249.8,478.2 282.0,478.5C314.2,478.8 363.0,479.3 391.0,480.0C419.0,480.7 430.8,481.6 450.0,482.5C469.2,483.4 487.8,484.5 506.0,485.5C524.2,486.5 541.7,487.7 559.0,488.5C576.3,489.3 594.8,490.2 610.0,490.5C625.2,490.8 635.0,491.0 650.0,490.5C665.0,490.0 685.0,488.6 700.0,487.5C715.0,486.4 726.7,485.0 740.0,484.0C753.3,483.0 767.3,481.8 780.0,481.5C792.7,481.2 804.8,481.7 816.0,482.5C827.2,483.3 836.7,485.0 847.0,486.5C857.3,488.0 870.0,489.8 878.0,491.5C886.0,493.2 889.2,495.2 895.2,497.0C901.2,498.8 904.2,499.1 913.8,502.1C923.4,505.1 944.0,511.7 952.7,514.8C961.4,517.9 958.9,516.1 966.2,520.7C973.5,525.4 989.4,538.1 996.6,542.7C1003.8,547.4 1007.3,547.6 1009.4,548.6" fill="none" stroke-width="1.7" stroke-dasharray="15.69 11.12" stroke-dashoffset="0.7" transform="translate(0,-0.1)" clip-path="url(#kO)"/>
<g stroke="none"><rect x="585.3" y="92.5" width="15.0" height="15.0"/><rect x="620.5" y="92.9" width="15.0" height="15.0"/><rect x="669.5" y="88.2" width="15.0" height="15.0"/><rect x="722.0" y="101.0" width="15.0" height="15.0"/><rect x="778.0" y="140.0" width="15.0" height="15.0"/><rect x="837.0" y="178.5" width="15.0" height="15.0"/><rect x="890.3" y="231.8" width="15.0" height="15.0"/><rect x="936.2" y="296.0" width="15.0" height="15.0"/><rect x="975.2" y="359.6" width="15.0" height="15.0"/><rect x="1001.9" y="427.4" width="15.0" height="15.0"/><circle cx="592.8" cy="360.5" r="6.5"/><circle cx="628.0" cy="368.2" r="6.5"/><circle cx="677.0" cy="375.6" r="6.5"/><circle cx="729.5" cy="393.7" r="6.5"/><circle cx="785.5" cy="421.5" r="6.5"/><circle cx="844.5" cy="448.7" r="6.5"/><circle cx="897.8" cy="484.5" r="6.5"/><circle cx="943.7" cy="526.6" r="6.5"/><circle cx="982.7" cy="570.6" r="6.5"/><circle cx="1009.4" cy="619.0" r="6.5"/><path d="M592.8,480.1l6.6,8.9l-6.6,8.9l-6.6,-8.9z"/><path d="M628.0,483.3l6.6,8.9l-6.6,8.9l-6.6,-8.9z"/><path d="M677.0,478.1l6.6,8.9l-6.6,8.9l-6.6,-8.9z"/><path d="M729.5,475.2l6.6,8.9l-6.6,8.9l-6.6,-8.9z"/><path d="M785.5,473.4l6.6,8.9l-6.6,8.9l-6.6,-8.9z"/><path d="M844.5,471.8l6.6,8.9l-6.6,8.9l-6.6,-8.9z"/><path d="M897.8,488.7l6.6,8.9l-6.6,8.9l-6.6,-8.9z"/><path d="M943.7,506.7l6.6,8.9l-6.6,8.9l-6.6,-8.9z"/><path d="M982.7,525.0l6.6,8.9l-6.6,8.9l-6.6,-8.9z"/><path d="M1009.4,539.7l6.6,8.9l-6.6,8.9l-6.6,-8.9z"/></g>
<g fill="none" stroke-width="2"><rect x="993.0" y="475.2" width="13.0" height="13.0"/><circle cx="999.5" cy="647.4" r="5.5"/><path d="M999.5,556.9l5.3,7.2l-5.3,7.2l-5.3,-7.2z"/><rect x="980.9" y="484.7" width="13.0" height="13.0"/><circle cx="987.4" cy="648.1" r="5.5"/><path d="M987.4,567.6l5.3,7.2l-5.3,7.2l-5.3,-7.2z"/></g>
</g>
<g fill="#ffa500" stroke="#ffa500">
<path d="M635.3,98.0C637.1,97.9 637.9,96.9 646.0,97.6C654.1,98.3 671.4,99.5 684.0,102.3C696.6,105.1 709.0,110.0 721.5,114.5C734.0,119.0 749.3,126.4 759.0,129.5C768.7,132.6 769.3,128.3 779.7,133.3C790.1,138.3 809.7,152.0 821.4,159.6C833.1,167.2 841.4,172.0 850.0,178.9C858.6,185.8 863.6,191.9 873.2,200.9C882.8,209.9 897.7,222.9 907.5,233.2C917.3,243.4 922.9,249.6 932.2,262.4C941.5,275.2 955.3,297.3 963.5,310.0C971.7,322.7 973.9,325.7 981.3,338.5C988.7,351.3 998.9,368.0 1008.1,386.7C1017.3,405.4 1031.8,440.2 1036.6,450.9" fill="none" stroke-width="1.5"/>
<clipPath id="kNe"><rect x="635.3" y="0" width="1065" height="841"/></clipPath>
<path d="M197.7,304.6C204.0,304.9 221.2,305.7 235.3,306.6C249.4,307.5 265.4,308.9 282.0,310.0C298.6,311.1 320.9,312.1 334.7,313.0C348.5,313.9 355.1,314.3 364.6,315.2C374.1,316.1 382.3,317.6 391.5,318.5C400.7,319.4 410.2,319.6 420.0,320.8C429.8,322.1 438.3,323.9 450.0,326.0C461.7,328.1 480.7,331.4 490.0,333.6C499.3,335.8 500.8,337.4 506.0,339.0C511.2,340.6 514.5,341.8 521.0,343.5C527.5,345.2 538.7,347.8 545.0,349.5C551.3,351.2 553.2,352.6 559.0,354.0C564.8,355.4 573.2,356.5 580.0,358.0C586.8,359.5 592.0,361.2 600.0,363.0C608.0,364.8 617.0,366.0 628.0,368.5C639.0,371.0 653.3,374.8 666.0,378.0C678.7,381.2 691.3,384.4 704.0,387.6C716.7,390.8 732.7,394.4 742.0,397.0C751.3,399.6 745.6,396.7 760.0,403.5C774.4,410.3 807.4,426.4 828.4,437.9C849.4,449.4 868.0,461.2 886.1,472.6C904.2,484.0 920.8,494.3 936.8,506.3C952.8,518.3 968.8,530.9 982.0,544.4C995.2,557.9 1006.9,571.9 1016.0,587.0C1025.1,602.1 1033.1,627.1 1036.5,635.1" fill="none" stroke-width="1.8" stroke-dasharray="1.70 4.50" stroke-dashoffset="1.1" transform="translate(0,-0.4)" clip-path="url(#kNe)"/>
<path d="M197.7,478.0C211.8,478.1 249.8,478.2 282.0,478.5C314.2,478.8 363.0,479.3 391.0,480.0C419.0,480.7 430.8,481.6 450.0,482.5C469.2,483.4 487.8,484.5 506.0,485.5C524.2,486.5 541.7,487.7 559.0,488.5C576.3,489.3 594.8,490.2 610.0,490.5C625.2,490.8 635.0,491.0 650.0,490.5C665.0,490.0 685.0,488.6 700.0,487.5C715.0,486.4 726.7,485.0 740.0,484.0C753.3,483.0 767.3,481.7 780.0,481.5C792.7,481.3 804.8,481.8 816.0,482.7C827.2,483.6 836.7,485.2 847.0,486.6C857.3,488.0 870.8,490.0 878.0,491.3C885.2,492.6 881.3,492.4 890.1,494.5C898.9,496.6 919.2,501.0 930.7,503.8C942.2,506.6 951.0,508.6 959.4,511.4C967.8,514.2 973.8,516.8 981.4,520.7C989.0,524.7 997.7,530.0 1005.0,535.1C1012.3,540.2 1020.0,547.0 1025.3,551.1C1030.5,555.2 1034.6,558.2 1036.5,559.6" fill="none" stroke-width="1.7" stroke-dasharray="15.20 10.78" stroke-dashoffset="1.1" transform="translate(0,-0.4)" clip-path="url(#kNe)"/>
<g stroke="none"><rect x="627.8" y="92.9" width="15.0" height="15.0"/><rect x="664.5" y="91.9" width="15.0" height="15.0"/><rect x="710.1" y="101.7" width="15.0" height="15.0"/><rect x="763.3" y="122.9" width="15.0" height="15.0"/><rect x="820.9" y="160.1" width="15.0" height="15.0"/><rect x="878.6" y="214.9" width="15.0" height="15.0"/><rect x="929.3" y="266.8" width="15.0" height="15.0"/><rect x="974.5" y="323.4" width="15.0" height="15.0"/><rect x="1008.5" y="385.1" width="15.0" height="15.0"/><rect x="1029.0" y="455.1" width="15.0" height="15.0"/><circle cx="635.3" cy="370.4" r="6.5"/><circle cx="672.0" cy="378.1" r="6.5"/><circle cx="717.6" cy="391.4" r="6.5"/><circle cx="770.8" cy="410.3" r="6.5"/><circle cx="828.4" cy="437.9" r="6.5"/><circle cx="886.1" cy="472.6" r="6.5"/><circle cx="936.8" cy="506.3" r="6.5"/><circle cx="982.0" cy="544.4" r="6.5"/><circle cx="1016.0" cy="587.0" r="6.5"/><circle cx="1036.5" cy="635.1" r="6.5"/><path d="M635.3,483.7l6.6,8.9l-6.6,8.9l-6.6,-8.9z"/><path d="M672.0,481.4l6.6,8.9l-6.6,8.9l-6.6,-8.9z"/><path d="M717.6,478.1l6.6,8.9l-6.6,8.9l-6.6,-8.9z"/><path d="M770.8,470.1l6.6,8.9l-6.6,8.9l-6.6,-8.9z"/><path d="M828.4,467.9l6.6,8.9l-6.6,8.9l-6.6,-8.9z"/><path d="M886.1,483.1l6.6,8.9l-6.6,8.9l-6.6,-8.9z"/><path d="M936.8,500.8l6.6,8.9l-6.6,8.9l-6.6,-8.9z"/><path d="M982.0,515.5l6.6,8.9l-6.6,8.9l-6.6,-8.9z"/><path d="M1016.0,532.6l6.6,8.9l-6.6,8.9l-6.6,-8.9z"/><path d="M1036.5,550.7l6.6,8.9l-6.6,8.9l-6.6,-8.9z"/></g>
<g fill="none" stroke-width="2"><rect x="1015.1" y="497.9" width="13.0" height="13.0"/><circle cx="1021.6" cy="659.2" r="5.5"/><path d="M1021.6,567.9l5.3,7.2l-5.3,7.2l-5.3,-7.2z"/><rect x="999.9" y="518.0" width="13.0" height="13.0"/><circle cx="1006.4" cy="663.0" r="5.5"/><path d="M1006.4,586.5l5.3,7.2l-5.3,7.2l-5.3,-7.2z"/></g>
</g>
<g stroke="#333" stroke-width="1.4" fill="none">
<rect x="123.7" y="0.3" width="939.2" height="739.7"/>
<path d="M123.7,740.0v-10M123.7,0.3v10M189.4,740.0v-5M189.4,0.3v5M227.9,740.0v-5M227.9,0.3v5M255.2,740.0v-5M255.2,0.3v5M276.3,740.0v-5M276.3,0.3v5M293.6,740.0v-5M293.6,0.3v5M308.2,740.0v-5M308.2,0.3v5M320.9,740.0v-5M320.9,0.3v5M332.1,740.0v-5M332.1,0.3v5M342.1,740.0v-10M342.1,0.3v10M407.8,740.0v-5M407.8,0.3v5M446.3,740.0v-5M446.3,0.3v5M473.5,740.0v-5M473.5,0.3v5M494.7,740.0v-5M494.7,0.3v5M512.0,740.0v-5M512.0,0.3v5M526.6,740.0v-5M526.6,0.3v5M539.3,740.0v-5M539.3,0.3v5M550.4,740.0v-5M550.4,0.3v5M560.4,740.0v-10M560.4,0.3v10M626.2,740.0v-5M626.2,0.3v5M664.6,740.0v-5M664.6,0.3v5M691.9,740.0v-5M691.9,0.3v5M713.1,740.0v-5M713.1,0.3v5M730.4,740.0v-5M730.4,0.3v5M745.0,740.0v-5M745.0,0.3v5M757.6,740.0v-5M757.6,0.3v5M768.8,740.0v-5M768.8,0.3v5M778.8,740.0v-10M778.8,0.3v10M844.5,740.0v-5M844.5,0.3v5M883.0,740.0v-5M883.0,0.3v5M910.3,740.0v-5M910.3,0.3v5M931.4,740.0v-5M931.4,0.3v5M948.7,740.0v-5M948.7,0.3v5M963.3,740.0v-5M963.3,0.3v5M976.0,740.0v-5M976.0,0.3v5M987.2,740.0v-5M987.2,0.3v5M997.2,740.0v-10M997.2,0.3v10M1062.9,740.0v-5M1062.9,0.3v5M123.7,740.0h10M1062.9,740.0h-10M123.7,534.5h10M1062.9,534.5h-10M123.7,329.1h10M1062.9,329.1h-10M123.7,123.6h10M1062.9,123.6h-10"/>
</g>
<rect x="141.9" y="602.1" width="354.1" height="120.0" fill="#fff" stroke="#333" stroke-width="1.3"/>
<rect x="173.1" y="616.5" width="15" height="15" fill="#ff0000"/>
<text x="217.2" y="636" class="g">H</text>
<rect x="173.1" y="654.8" width="15" height="15" fill="#00ff00"/>
<text x="217.2" y="674.2" class="g">He</text>
<rect x="173.1" y="693.0" width="15" height="15" fill="#0000ff"/>
<text x="217.2" y="712.7" class="g">Li</text>
<rect x="290.2" y="616.5" width="15" height="15" fill="#ffff00"/>
<text x="334.2" y="636" class="g">Be</text>
<rect x="290.2" y="654.8" width="15" height="15" fill="#ff00ff"/>
<text x="334.2" y="674.2" class="g">B</text>
<rect x="290.2" y="693.0" width="15" height="15" fill="#00ffff"/>
<text x="334.2" y="712.7" class="g">C</text>
<rect x="405.7" y="616.5" width="15" height="15" fill="#800000"/>
<text x="449.5" y="636" class="g">N</text>
<rect x="405.7" y="654.8" width="15" height="15" fill="#008000"/>
<text x="449.5" y="674.2" class="g">O</text>
<rect x="405.7" y="693.0" width="15" height="15" fill="#ffa500"/>
<text x="449.5" y="712.7" class="g">Ne</text>
<text transform="translate(96.10,785.05) scale(1.02,1)" class="t">0</text><text transform="translate(114.60,785.05) scale(1.02,1)" class="t">.</text><path d="M135.40,785.05h-3.0v-15.8h-6.3v-2.3c3.8,-0.3 5.9,-1.4 6.9,-3.6h2.4z" fill="#000"/>
<path d="M331.20,785.05h-3.0v-15.8h-6.3v-2.3c3.8,-0.3 5.9,-1.4 6.9,-3.6h2.4z" fill="#000"/>
<path d="M545.10,785.05h-3.0v-15.8h-6.3v-2.3c3.8,-0.3 5.9,-1.4 6.9,-3.6h2.4z" fill="#000"/><text transform="translate(551.00,785.05) scale(1.02,1)" class="t">0</text>
<path d="M759.20,785.05h-3.0v-15.8h-6.3v-2.3c3.8,-0.3 5.9,-1.4 6.9,-3.6h2.4z" fill="#000"/><text transform="translate(765.30,785.05) scale(1.02,1)" class="t">0</text><text transform="translate(783.10,785.05) scale(1.02,1)" class="t">0</text>
<path d="M973.20,785.05h-3.0v-15.8h-6.3v-2.3c3.8,-0.3 5.9,-1.4 6.9,-3.6h2.4z" fill="#000"/><text transform="translate(979.60,785.05) scale(1.02,1)" class="t">0</text><text transform="translate(997.40,785.05) scale(1.02,1)" class="t">0</text><text transform="translate(1015.20,785.05) scale(1.02,1)" class="t">0</text>
<text transform="translate(93.20,753.15) scale(1.02,1)" class="t">0</text>
<text transform="translate(75.90,547.68) scale(1.02,1)" class="t">5</text><text transform="translate(94.20,547.68) scale(1.02,1)" class="t">0</text>
<path d="M69.40,342.21h-3.0v-15.8h-6.3v-2.3c3.8,-0.3 5.9,-1.4 6.9,-3.6h2.4z" fill="#000"/><text transform="translate(76.20,342.21) scale(1.02,1)" class="t">0</text><text transform="translate(94.20,342.21) scale(1.02,1)" class="t">0</text>
<path d="M69.40,136.73h-3.0v-15.8h-6.3v-2.3c3.8,-0.3 5.9,-1.4 6.9,-3.6h2.4z" fill="#000"/><text transform="translate(75.70,136.73) scale(1.02,1)" class="t">5</text><text transform="translate(94.20,136.73) scale(1.02,1)" class="t">0</text>
<text x="481.4" y="832.3" class="l">LET (keV/<tspan font-style="italic">µ</tspan><tspan dx="1.5">m)</tspan></text>
<g transform="translate(42.2,494.9) rotate(-90)"><text class="l"><tspan x="0" y="0">SB (Gy</tspan><tspan class="s" x="116.2" y="-18.4">-</tspan><tspan x="140.6" y="0">Gbp</tspan><tspan class="s" x="210.3" y="-18.4">-</tspan><tspan x="236" y="0">)</tspan></text><path d="M0,0h-3.0v-15.8h-6.3v-2.3c3.8,-0.3 5.9,-1.4 6.9,-3.6h2.4z" transform="translate(134.7,-18.4) scale(0.85)"/><path d="M0,0h-3.0v-15.8h-6.3v-2.3c3.8,-0.3 5.9,-1.4 6.9,-3.6h2.4z" transform="translate(229.9,-18.4) scale(0.85)"/></g>
</svg>
</body></html>
